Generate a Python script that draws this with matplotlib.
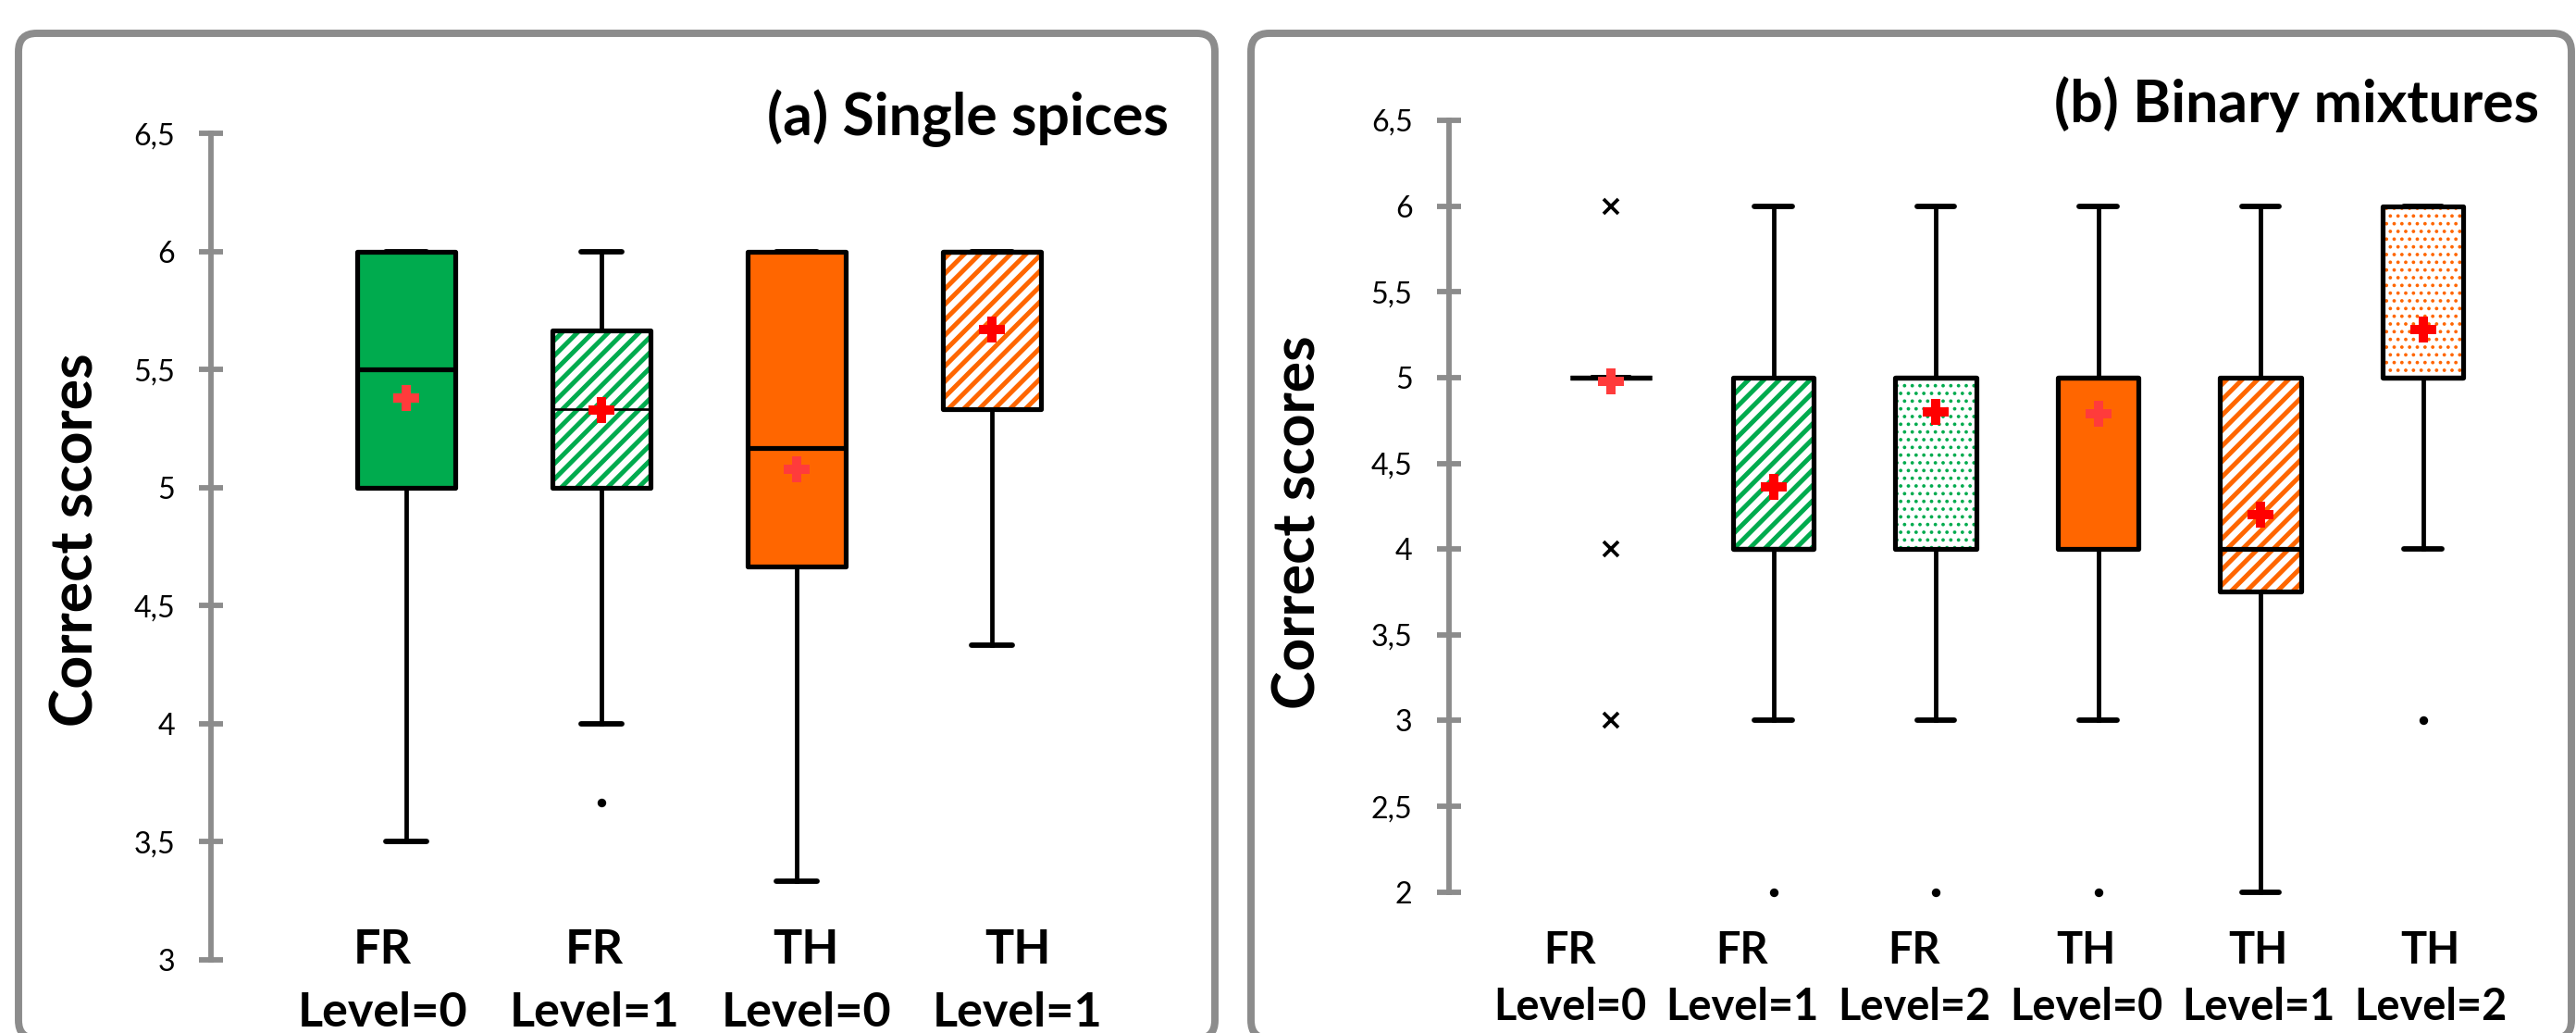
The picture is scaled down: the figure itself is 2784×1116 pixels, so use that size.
import matplotlib
matplotlib.use('Agg')
import matplotlib.pyplot as plt
from matplotlib.patches import FancyBboxPatch, PathPatch

plt.rcParams['font.family'] = ['Lato', 'DejaVu Sans']
plt.rcParams['hatch.linewidth'] = 2.4

GREEN = '#00ab4e'
ORANGE = '#ff6600'
GRAY = '#8c8c8c'

# (a) single spices
a_groups = ['FR', 'FR', 'TH', 'TH']
a_levels = ['Level=0', 'Level=1', 'Level=0', 'Level=1']
a_whislo = [3.5, 4.0, 3.333, 4.333]
a_q1 = [5.0, 5.0, 4.667, 5.333]
a_med = [5.5, 5.333, 5.167, 6.0]
a_q3 = [6.0, 5.667, 6.0, 6.0]
a_whishi = [6.0, 6.0, 6.0, 6.0]
a_mean = [5.38, 5.33, 5.08, 5.67]
a_fliers = [[], [3.667], [], []]
a_yticks = [3, 3.5, 4, 4.5, 5, 5.5, 6, 6.5]

# (b) binary mixtures
b_groups = ['FR', 'FR', 'FR', 'TH', 'TH', 'TH']
b_levels = ['Level=0', 'Level=1', 'Level=2', 'Level=0', 'Level=1', 'Level=2']
b_whislo = [5.0, 3.0, 3.0, 3.0, 2.0, 4.0]
b_q1 = [5.0, 4.0, 4.0, 4.0, 3.75, 5.0]
b_med = [5.0, 4.0, 5.0, 5.0, 4.0, 5.0]
b_q3 = [5.0, 5.0, 5.0, 5.0, 5.0, 6.0]
b_whishi = [5.0, 6.0, 6.0, 6.0, 6.0, 6.0]
b_mean = [4.98, 4.36, 4.80, 4.79, 4.20, 5.28]
b_fliers = [[6.0, 4.0, 3.0], [2.0], [2.0], [2.0], [], [3.0]]
b_yticks = [2, 2.5, 3, 3.5, 4, 4.5, 5, 5.5, 6, 6.5]

# fill style per box: 'solid', a hatch string, or 'line'
a_colors = [GREEN, GREEN, ORANGE, ORANGE]
a_fill = ['solid', '///', 'solid', '///']
b_colors = [GREEN, GREEN, GREEN, ORANGE, ORANGE, ORANGE]
b_fill = ['line', '///', '...', 'solid', '///', '...']


def draw_panel(ax, whislo, q1, med, q3, whishi, mean, fliers, colors, fills,
               width, capw):
    stats = []
    for i in range(len(q1)):
        stats.append(dict(whislo=whislo[i], q1=q1[i], med=med[i], q3=q3[i],
                          whishi=whishi[i], mean=mean[i], fliers=fliers[i]))
    pos = list(range(1, len(stats) + 1))
    bp = ax.bxp(stats, positions=pos, widths=width, capwidths=capw,
                patch_artist=True, showmeans=True, manage_ticks=False,
                boxprops=dict(linewidth=2.5, edgecolor='black'),
                whiskerprops=dict(linewidth=2.3, color='black'),
                capprops=dict(linewidth=2.8, color='black', solid_capstyle='round'),
                medianprops=dict(linewidth=2.5, color='black', solid_capstyle='butt'),
                meanprops=dict(marker='P', markersize=13.5, markerfacecolor='red',
                               markeredgecolor='none'),
                flierprops=dict(marker='o', markersize=4.5, markerfacecolor='black',
                                markeredgecolor='none'))
    for i, box in enumerate(bp['boxes']):
        box.set_joinstyle('round')
        f = fills[i]
        if f == 'solid':
            box.set_facecolor(colors[i])
            bp['means'][i].set_markerfacecolor('#ff3b3b')
        elif f == 'line':
            box.set_facecolor('none')
            bp['means'][i].set_markerfacecolor('#ff3b3b')
        else:
            box.set_facecolor('white')
            box.set_edgecolor(colors[i])
            box.set_linewidth(0)
            box.set_hatch(f)
            if '.' in f and hasattr(box, 'set_hatch_linewidth'):
                box.set_hatch_linewidth(1.0)
            outline = PathPatch(box.get_path(), fill=False, ec='black', lw=2.5,
                                joinstyle='round', zorder=box.get_zorder() + 0.01)
            outline.set_clip_on(False)
            ax.add_patch(outline)
    for key in bp:
        for art in bp[key]:
            art.set_clip_on(False)
    for m in bp['means']:
        m.set_zorder(6)
    return bp


def style_axis(ax, yticks, ylim, xlim):
    ax.set_ylim(*ylim)
    ax.set_xlim(*xlim)
    ax.set_yticks(yticks)
    ax.set_yticklabels([f'{v:g}'.replace('.', ',') for v in yticks])
    ax.set_xticks([])
    for s in ['top', 'right', 'bottom']:
        ax.spines[s].set_visible(False)
    ax.spines['left'].set_color(GRAY)
    ax.spines['left'].set_linewidth(2.8)
    ax.tick_params(axis='y', direction='inout', length=12.5, width=2.8,
                   color=GRAY, pad=12.5, labelsize=15.5, labelcolor='black')
    ax.patch.set_alpha(0)


fig = plt.figure(figsize=(18.56, 7.44), dpi=150)

# panel frames
for x0, x1 in [(20, 1313), (1352, 2779)]:
    frame = FancyBboxPatch((x0 / 150, -6 / 150), (x1 - x0) / 150, (1116 - 36 + 6) / 150,
                           boxstyle='round,pad=0,rounding_size=0.13',
                           transform=fig.dpi_scale_trans, fill=False,
                           ec=GRAY, lw=3.8)
    fig.add_artist(frame)

ax_a = fig.add_axes([0.08190, 0.07079, 0.37895, 0.79973])
ax_b = fig.add_axes([0.56236, 0.13647, 0.42236, 0.74704])

bp_a = draw_panel(ax_a, a_whislo, a_q1, a_med, a_q3, a_whishi, a_mean, a_fliers,
                  a_colors, a_fill, 0.507, 0.21)
bp_a['medians'][1].set_linewidth(1.3)
style_axis(ax_a, a_yticks, (3, 6.5), (0, 5))

bp_b = draw_panel(ax_b, b_whislo, b_q1, b_med, b_q3, b_whishi, b_mean, b_fliers,
                  b_colors, b_fill, 0.5, 0.23)
bp_b['fliers'][0].set(marker='x', markersize=8, markeredgewidth=1.8,
                      markeredgecolor='black')
style_axis(ax_b, b_yticks, (2, 6.5), (0, 6.7))

# category labels
for i, (g, l) in enumerate(zip(a_groups, a_levels)):
    x = 0.88 + i * 1.084
    tr = ax_a.get_xaxis_transform()
    ax_a.text(x, -0.004, g, transform=tr, ha='center', va='baseline',
              fontsize=25, fontweight='bold')
    ax_a.text(x, -0.0807, l, transform=tr, ha='center', va='baseline',
              fontsize=25, fontweight='bold')

for i, (g, l) in enumerate(zip(b_groups, b_levels)):
    x = 0.746 + i * 1.06
    tr = ax_b.get_xaxis_transform()
    ax_b.text(x, -0.0922, g, transform=tr, ha='center', va='baseline',
              fontsize=22.5, fontweight='bold')
    ax_b.text(x, -0.1657, l, transform=tr, ha='center', va='baseline',
              fontsize=22.5, fontweight='bold')

# titles and y labels
fig.text(0.4537, 0.8692, '(a) Single spices', ha='right', va='baseline',
         fontsize=30, fontweight='bold')
fig.text(0.9856, 0.882, '(b) Binary mixtures', ha='right', va='baseline',
         fontsize=30, fontweight='bold')
fig.text(0.0298, 0.4772, 'Correct scores', rotation=90, ha='center', va='center',
         fontsize=30, fontweight='bold')
fig.text(0.5043, 0.4946, 'Correct scores', rotation=90, ha='center', va='center',
         fontsize=30, fontweight='bold')

fig.savefig('out.png', dpi=150)
